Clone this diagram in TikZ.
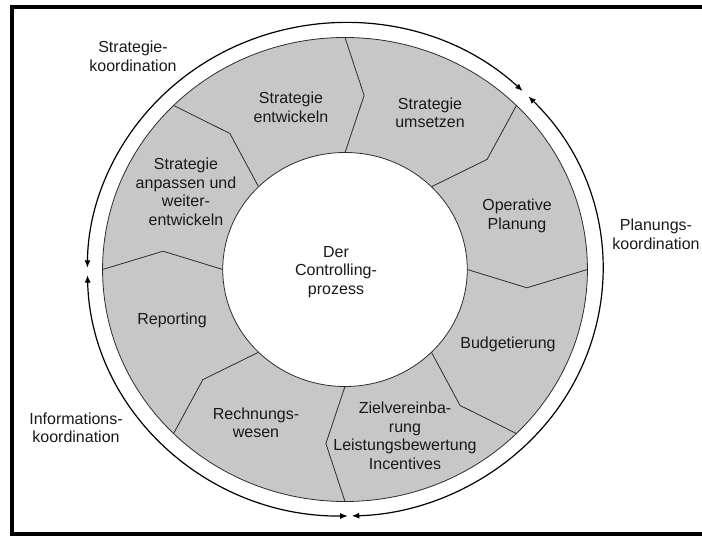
\documentclass[tikz,border=0pt]{standalone}
\usepackage{fontspec}
\setmainfont{Liberation Sans}
\usetikzlibrary{arrows.meta}
\definecolor{ringgray}{RGB}{199,199,199}
\definecolor{linegray}{RGB}{45,45,45}

\begin{document}
\begin{tikzpicture}[x=1pt,y=1pt,
    lbl/.style={align=center,inner sep=0pt,text=black!90,font=\fontsize{16}{18.5}\selectfont},
    ringline/.style={linegray,line width=0.8pt},
    koord/.style={line width=1.2pt,{Latex[length=7.5pt,width=6pt]}-{Latex[length=7.5pt,width=6pt]}}]
  \useasboundingbox (0,0) rectangle (702,536);
  \draw[line width=4pt] (702,529)--(12,529)--(12,2.5)--(702,2.5);
  \coordinate (M) at (345,266.5);
  \begin{scope}[shift={(M)},xscale=1.045]
    \draw[ringline,fill=ringgray] (0,0) circle (232);
    \draw[ringline,fill=white] (0,0) circle (117);
    \foreach \a in {0,45,...,315}
      \draw[ringline] (\a:117)--({\a-6}:175)--(\a:232);
    \draw[koord] (46.4:246.5) arc[start angle=46.4,end angle=179.6,radius=246.5];
    \draw[koord] (44.6:246.5) arc[start angle=44.6,end angle=-88.5,radius=246.5];
    \draw[koord] (181.3:246.5) arc[start angle=181.3,end angle=270.6,radius=246.5];
  \end{scope}
  \node[lbl] (prozess) at (336,264) {Der\\Controlling-\\prozess};
  \node[lbl] (entwickeln) at (291,428.5) {Strategie\\entwickeln};
  \node[lbl] (umsetzen) at (430,423) {Strategie\\umsetzen};
  \node[lbl] (operativ) at (517,320) {Operative\\Planung};
  \node[lbl] (budget) at (508,192) {Budgetierung};
  \node[lbl] (ziel) at (405,100) {Zielvereinba-\\rung\\Leistungsbewertung\\Incentives};
  \node[lbl] (rechnung) at (256,113) {Rechnungs-\\wesen};
  \node[lbl] (reporting) at (172,216) {Reporting};
  \node[lbl] (anpassen) at (186,344) {Strategie\\anpassen und\\weiter-\\entwickeln};
  \node[lbl] (stratkoord) at (133,479.5) {Strategie-\\koordination};
  \node[lbl] (plankoord) at (656,301.5) {Planungs-\\koordination};
  \node[lbl] (infokoord) at (76,108) {Informations-\\koordination};
\end{tikzpicture}
\end{document}
